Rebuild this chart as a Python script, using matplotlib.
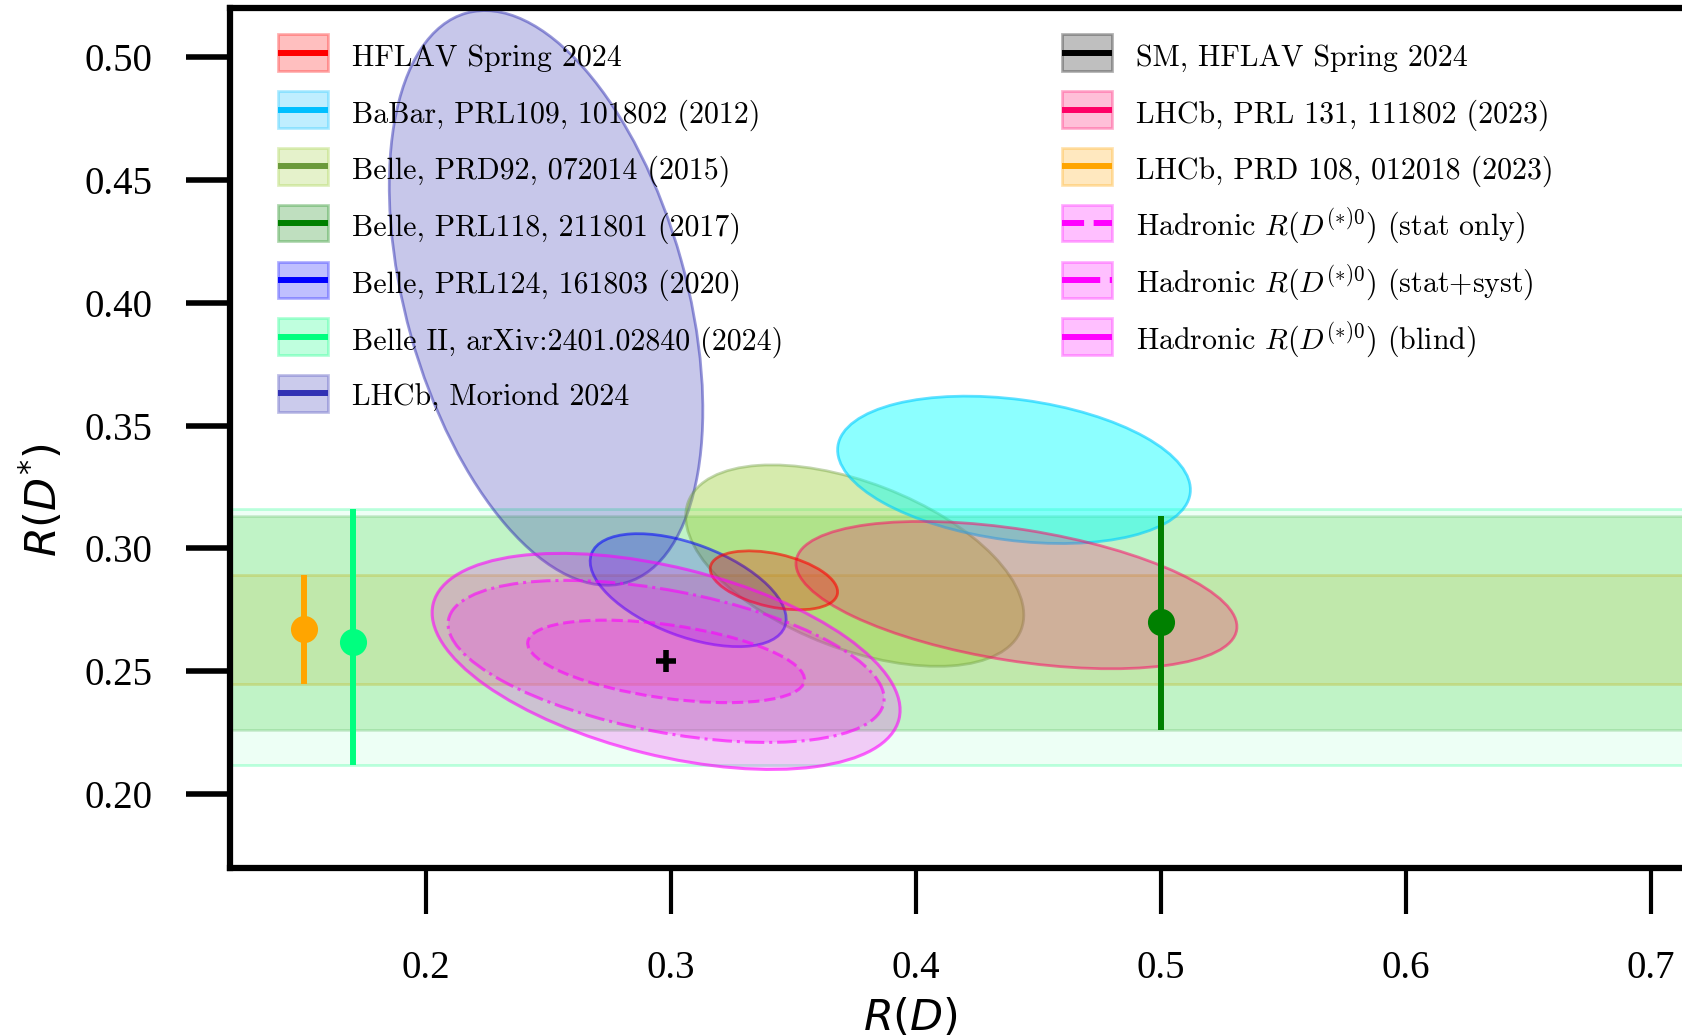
import numpy as np
import matplotlib
matplotlib.use('Agg')
import matplotlib.pyplot as plt
from matplotlib.patches import Ellipse, Patch, Rectangle
from matplotlib.lines import Line2D
from matplotlib.colors import to_rgba
from matplotlib.font_manager import FontProperties
from matplotlib.legend_handler import HandlerPatch, HandlerLine2D

# --- measurements in the R(D) - R(D*) plane (1 sigma contours) ---
ell_names = ['HFLAV', 'BaBar', 'Belle2015', 'Belle2020', 'LHCbMoriond', 'LHCb2023']
ell_rd = [0.342, 0.440, 0.375, 0.307, 0.249, 0.441]
ell_rd_err = [0.026, 0.072, 0.069, 0.040, 0.064, 0.090]
ell_rds = [0.287, 0.332, 0.293, 0.283, 0.402, 0.281]
ell_rds_err = [0.012, 0.030, 0.041, 0.023, 0.117, 0.030]
ell_rho = [-0.39, -0.27, -0.49, -0.51, -0.39, -0.43]

# hadronic tag projections (stat only, stat+syst, blind), centred on the SM
had_rd = 0.298
had_rds = 0.254
had_rd_err = [0.0565, 0.089, 0.0955]
had_rds_err = [0.0168, 0.033, 0.044]
had_rho = [-0.44, -0.46, -0.45]

# R(D*) only measurements (LHCb PRD108, Belle II, Belle PRL118)
dst_x = [0.15, 0.17, 0.50]
dst_val = [0.267, 0.262, 0.270]
dst_lo = [0.022, 0.050, 0.044]
dst_hi = [0.022, 0.054, 0.043]

# SM prediction
sm_rd, sm_rd_err = 0.298, 0.004
sm_rds, sm_rds_err = 0.254, 0.0045

# legend texts
left_labels = ['HFLAV Spring 2024', 'BaBar, PRL109, 101802 (2012)', 'Belle, PRD92, 072014 (2015)',
               'Belle, PRL118, 211801 (2017)', 'Belle, PRL124, 161803 (2020)',
               'Belle II, arXiv:2401.02840 (2024)', 'LHCb, Moriond 2024']
right_labels = ['SM, HFLAV Spring 2024', 'LHCb, PRL 131, 111802 (2023)', 'LHCb, PRD 108, 012018 (2023)',
                r'Hadronic $R(D^{(*)0})$ (stat only)', r'Hadronic $R(D^{(*)0})$ (stat+syst)',
                r'Hadronic $R(D^{(*)0})$ (blind)']

# styles
ell_face = [('red', 0.25), ('aqua', 0.45), ('yellowgreen', 0.4), ('blue', 0.2), ('#3232b4', 0.27), ('#ff0066', 0.24)]
ell_edge = [('red', 0.6), ('#00ccff', 0.6), ('#6b9a3b', 0.4), ('blue', 0.55), ('#3232b4', 0.5), ('#ff0066', 0.5)]
dst_colors = ['orange', 'springgreen', 'green']
band_face = [('orange', 0.15), ('springgreen', 0.07), ('limegreen', 0.24)]
band_edge = [('orange', 0.3), ('springgreen', 0.25), ('green', 0.15)]
had_ls = ['--', '-.', '-']

plt.rcParams['font.family'] = ['Liberation Serif', 'DejaVu Serif']
plt.rcParams['mathtext.fontset'] = 'cm'

W, H = 1682, 1036
fig = plt.figure(figsize=(W / 100, H / 100), dpi=100)
xlim = (0.12, 0.80)
ylim = (0.17, 0.52)
left = 230 / W
bottom = 1 - 867.7 / H
ax = fig.add_axes([left, bottom, (xlim[1] - xlim[0]) * 2450 / W, (ylim[1] - ylim[0]) * 2456 / H])
ax.set_xlim(*xlim)
ax.set_ylim(*ylim)


def cov_ellipse(x, y, sx, sy, rho, **kw):
    cov = np.array([[sx ** 2, rho * sx * sy], [rho * sx * sy, sy ** 2]])
    vals, vecs = np.linalg.eigh(cov)
    angle = np.degrees(np.arctan2(vecs[1, 1], vecs[0, 1]))
    return Ellipse((x, y), 2 * np.sqrt(vals[1]), 2 * np.sqrt(vals[0]), angle=angle, **kw)


# bands for R(D*) only results
for i in range(len(dst_x)):
    ax.axhspan(dst_val[i] - dst_lo[i], dst_val[i] + dst_hi[i],
               facecolor=to_rgba(*band_face[i]), edgecolor=to_rgba(*band_edge[i]), lw=2, zorder=1)

# ellipses
order = [4, 2, 1, 5, 3, 0]
for i in order:
    e = cov_ellipse(ell_rd[i], ell_rds[i], ell_rd_err[i], ell_rds_err[i], ell_rho[i],
                    facecolor=to_rgba(*ell_face[i]), edgecolor=to_rgba(*ell_edge[i]), lw=2, zorder=2)
    ax.add_patch(e)

for k in range(3):
    e = cov_ellipse(had_rd, had_rds, had_rd_err[k], had_rds_err[k], had_rho[k],
                    facecolor=to_rgba('magenta', 0.2), edgecolor=to_rgba('magenta', 0.6),
                    lw=2.2, ls=had_ls[k], zorder=3)
    ax.add_patch(e)

# R(D*) only error bars
for i in range(len(dst_x)):
    ax.errorbar(dst_x[i], dst_val[i], yerr=[[dst_lo[i]], [dst_hi[i]]], fmt='o', color=dst_colors[i],
                ms=18.5, lw=4.3, capsize=0, zorder=4)

# SM
ax.errorbar(sm_rd, sm_rds, xerr=sm_rd_err, yerr=sm_rds_err, fmt='none', color='black', lw=4, capsize=0, zorder=5)

# axes styling
for s in ax.spines.values():
    s.set_linewidth(4.5)
ax.set_xticks([0.2, 0.3, 0.4, 0.5, 0.6, 0.7])
ax.set_xticklabels(['0.2', '0.3', '0.4', '0.5', '0.6', '0.7'])
ax.set_yticks([0.20, 0.25, 0.30, 0.35, 0.40, 0.45, 0.50])
ax.set_yticklabels(['0.20', '0.25', '0.30', '0.35', '0.40', '0.45', '0.50'])
ax.tick_params(axis='y', length=32, width=4, pad=24, labelsize=28, labelfontfamily='Liberation Serif')
ax.tick_params(axis='x', length=33, width=3, pad=26, labelsize=28, labelfontfamily='Liberation Serif')

ax.set_xlabel(r'$R(D)$', fontsize=31, math_fontfamily='dejavusans')
ax.set_ylabel(r'$R(D^{*})$', fontsize=31, math_fontfamily='dejavusans')
ax.xaxis.label.set_va('center')
ax.yaxis.label.set_va('center')
ax.xaxis.set_label_coords(910 / W, 1 - 1018 / H, transform=fig.transFigure)
ax.yaxis.set_label_coords(42 / W, 1 - 500 / H, transform=fig.transFigure)


# legends: fixed-size box with a line through it, rows kept uniform
def handle_yc(fontsize):
    return 0.43 * fontsize


def box_patch(legend, orig_handle, xdescent, ydescent, width, height, fontsize):
    h = 1.23 * fontsize
    return Rectangle((-xdescent, handle_yc(fontsize) - h / 2), width, h)


class HandlerLineAt(HandlerLine2D):
    def create_artists(self, legend, orig_handle, xdescent, ydescent, width, height, fontsize, trans):
        arts = super().create_artists(legend, orig_handle, xdescent, ydescent, width, height, fontsize, trans)
        for a in arts:
            a.set_ydata(np.full_like(np.asarray(a.get_xdata(), float), handle_yc(fontsize)))
        return arts


def handle(line_color, fill_color=None, ls='-'):
    fc = fill_color or line_color
    p = Patch(facecolor=to_rgba(fc, 0.25), edgecolor=to_rgba(fc, 0.3), lw=2)
    l = Line2D([], [], color=line_color, lw=4.3, ls=ls, solid_capstyle='butt', dash_capstyle='butt')
    return (p, l)


left_handles = [handle('red'), handle('deepskyblue'), handle('#6b9a3b', 'yellowgreen'), handle('green'),
                handle('blue'), handle('springgreen'), handle('#3232b4')]
right_handles = [handle('black'), handle('#ff0066'), handle('orange'), handle('magenta', ls='--'),
                 handle('magenta', ls='-.'), handle('magenta')]

leg_prop = FontProperties(family='cmr10', size=21.5, math_fontfamily='cm')
leg_kw = dict(frameon=False, borderpad=0, borderaxespad=0, handlelength=1.67, handleheight=2.0,
              handletextpad=0.8, labelspacing=0.357, prop=leg_prop, loc='upper left',
              handler_map={Patch: HandlerPatch(patch_func=box_patch), Line2D: HandlerLineAt()})
fig.legend(left_handles, left_labels, bbox_to_anchor=(278 / W, 1 - 33 / H), **leg_kw)
fig.legend(right_handles, right_labels, bbox_to_anchor=(1062 / W, 1 - 33 / H), **leg_kw)

fig.savefig('out.png', dpi=100)
